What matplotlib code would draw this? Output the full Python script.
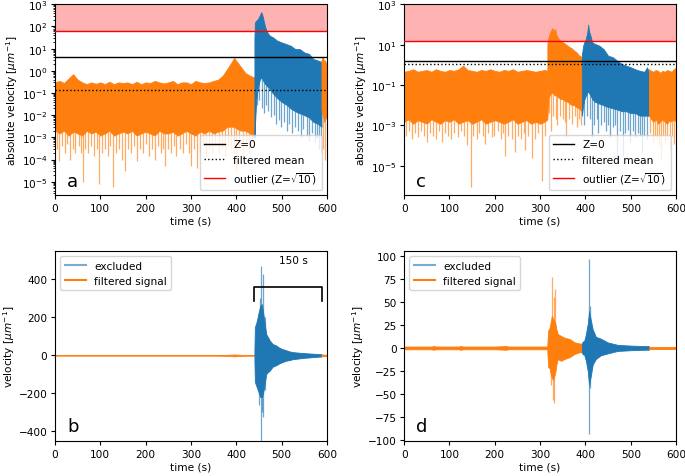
import numpy as np
import matplotlib.pyplot as plt
from matplotlib.lines import Line2D

# colors (matplotlib default cycle)
C_BLUE = '#1f77b4'
C_ORANGE = '#ff7f0e'

# ---------------- panel a : |velocity|, log scale ----------------
# upper envelope / lower body of the trace
a_t_pre = [0, 10, 20, 30, 40, 50, 60, 70, 80, 90, 100, 110, 120, 130, 140, 150, 160, 170, 180, 190,
           200, 210, 220, 230, 240, 250, 260, 270, 280, 290, 300, 310, 320, 330, 340, 350, 360, 370,
           380, 390, 395, 400, 410, 420, 430, 440]
a_hi_pre = [0.3, 0.35, 0.28, 0.45, 0.7, 0.4, 0.3, 0.25, 0.3, 0.26, 0.3, 0.25, 0.32, 0.25, 0.3, 0.28,
            0.3, 0.25, 0.32, 0.25, 0.3, 0.28, 0.35, 0.3, 0.27, 0.3, 0.35, 0.25, 0.3, 0.3, 0.25, 0.35,
            0.3, 0.28, 0.3, 0.35, 0.4, 0.6, 1.2, 2.5, 3.8, 2.8, 1.5, 0.8, 0.6, 0.5]
a_lo_pre = [2e-3, 1.5e-3, 2e-3, 1.2e-3, 1.8e-3, 1.5e-3, 1.2e-3, 2e-3, 1.5e-3, 1.8e-3, 1.2e-3, 1.5e-3,
            2e-3, 1.2e-3, 1.5e-3, 1.8e-3, 1.5e-3, 2e-3, 1.2e-3, 1.5e-3, 1.8e-3, 1.5e-3, 1.2e-3, 2e-3,
            1.5e-3, 1.5e-3, 1.8e-3, 1.2e-3, 1.5e-3, 2e-3, 1.5e-3, 1.2e-3, 1.8e-3, 1.5e-3, 2e-3, 1.5e-3,
            1.8e-3, 2e-3, 3e-3, 3e-3, 3e-3, 2.5e-3, 2e-3, 2e-3, 1.5e-3, 1e-3]
a_spk_t_pre = [4, 9, 15, 22, 27, 33, 39, 45, 52, 57, 61, 67, 73, 79, 85, 92, 98, 104, 110, 116, 122,
               129, 135, 142, 148, 154, 161, 168, 174, 180, 187, 194, 201, 208, 214, 220, 227, 233,
               238, 243, 250, 256, 262, 268, 275, 282, 289, 295, 300, 307, 313, 319, 326, 333, 340,
               347, 354, 361, 368, 375, 382, 389, 394, 400, 407, 414, 421, 428, 435]
a_spk_v_pre = [3e-4, 9e-5, 4e-4, 2e-4, 5e-4, 1e-4, 3e-4, 2e-4, 4e-4, 2e-4, 1e-5, 3e-4, 2e-4, 4e-4,
               1.5e-4, 3e-4, 8e-6, 2e-4, 3e-4, 1.5e-4, 4e-4, 6e-6, 2e-4, 3e-4, 1e-4, 3e-5, 3e-4, 2e-4,
               4e-4, 9e-5, 3e-4, 2e-4, 5e-4, 1.5e-4, 3e-4, 1e-4, 4e-4, 2e-4, 3e-4, 5e-5, 3e-4, 2e-4,
               4e-4, 1.5e-4, 3e-4, 2e-4, 5e-4, 2e-4, 5e-5, 3e-4, 4e-5, 2e-4, 4e-4, 1.5e-4, 3e-4, 2e-4,
               4e-4, 2e-4, 3e-4, 1.5e-4, 4e-4, 3e-4, 2e-4, 3e-5, 4e-4, 1e-4, 3e-4, 2e-4, 5e-4]

a_t_ex = [440, 441, 444, 448, 452, 455, 458, 461, 464, 468, 474, 480, 490, 500, 510, 520, 530, 540,
          550, 560, 570, 580, 588]
a_hi_ex = [30, 150, 180, 220, 320, 440, 300, 160, 90, 55, 38, 33, 23, 19, 16, 13.5, 9.5, 9.5, 6.7,
           5.8, 3.4, 2.9, 2.5]
a_lo_ex = [1e-3, 3e-3, 0.05, 0.2, 0.4, 0.5, 0.4, 0.3, 0.25, 0.2, 0.15, 0.1, 0.06, 0.04, 0.03, 0.02,
           0.015, 0.012, 0.01, 0.008, 0.005, 0.004, 0.003]
a_spk_t_ex = [446, 451, 457, 462, 466, 471, 477, 483, 488, 494, 499, 505, 511, 517, 523, 529, 536,
              542, 548, 555, 561, 567, 573, 578, 583, 587]
a_spk_v_ex = [0.03, 0.05, 0.02, 0.012, 0.03, 0.015, 0.008, 0.01, 0.004, 0.006, 0.003, 0.005, 0.002,
              0.004, 0.0015, 0.003, 0.002, 0.001, 0.0025, 0.0012, 0.0007, 0.0015, 0.0006, 0.0009,
              0.0003, 0.0002]

a_t_post = [588, 590, 592, 594, 596, 598, 600]
a_hi_post = [3, 4, 3.5, 2.5, 3, 2, 1.5]
a_lo_post = [0.02, 0.01, 0.008, 0.005, 0.006, 0.008, 0.01]
a_spk_t_post = [591, 596]
a_spk_v_post = [3e-4, 1e-4]

a_z0 = 4.1
a_mean = 0.14
a_outlier = 65

# ---------------- panel c : |velocity|, log scale ----------------
c_t_pre = [0, 10, 20, 30, 40, 50, 60, 70, 80, 90, 100, 110, 120, 130, 140, 150, 160, 170, 180, 190,
           200, 210, 220, 230, 240, 250, 260, 270, 280, 290, 300, 310, 316]
c_hi_pre = [0.45, 0.5, 0.6, 0.45, 0.5, 0.55, 0.45, 0.6, 0.5, 0.45, 0.55, 0.5, 0.6, 0.9, 0.55, 0.5,
            0.45, 0.55, 0.5, 0.6, 0.5, 0.45, 0.55, 0.5, 0.6, 0.45, 0.5, 0.55, 0.5, 0.45, 0.5, 0.55, 0.5]
c_lo_pre = [1.5e-3, 2e-3, 1.2e-3, 1.8e-3, 1.5e-3, 1.2e-3, 2e-3, 1.5e-3, 1.2e-3, 1.8e-3, 1.5e-3,
            2e-3, 1.2e-3, 1.5e-3, 1.8e-3, 1.2e-3, 1.5e-3, 2e-3, 1.2e-3, 1.5e-3, 1.8e-3, 1.5e-3,
            1.2e-3, 1.5e-3, 2e-3, 1.2e-3, 1.5e-3, 1.8e-3, 1.2e-3, 1.5e-3, 1.2e-3, 1.5e-3, 2e-3]
c_spk_t_pre = [4, 10, 17, 24, 30, 37, 44, 50, 56, 63, 70, 76, 83, 90, 97, 104, 111, 118, 125, 132,
               138, 147, 153, 160, 166, 173, 179, 186, 193, 199, 206, 213, 219, 223, 230, 237, 245,
               251, 258, 264, 267, 274, 282, 289, 296, 304, 310]
c_spk_v_pre = [3e-4, 5e-4, 2e-4, 4e-4, 2.5e-4, 5e-4, 3e-4, 1.5e-4, 4e-4, 3e-4, 2e-4, 5e-4, 1.5e-4,
               4e-4, 3e-4, 2e-4, 4e-4, 2.5e-4, 5e-4, 3e-4, 1e-4, 9e-7, 3e-4, 2e-4, 4e-4, 3e-4, 1.2e-4,
               4e-4, 2.5e-4, 3e-4, 5e-4, 2e-4, 4e-4, 3e-5, 3e-4, 2e-4, 5e-5, 3e-4, 2e-4, 4e-4, 6e-5,
               3e-4, 2.5e-5, 2e-4, 4e-4, 1.8e-6, 3e-4]

c_t_b1 = [316, 318, 321, 324, 327, 330, 333, 336, 340, 345, 350, 355, 360, 365, 370, 375, 380, 385, 392]
c_hi_b1 = [10, 20, 35, 50, 66, 45, 60, 30, 20, 15, 13, 11, 9, 7.5, 6.5, 5, 4.2, 3, 2.4]
c_lo_b1 = [0.003, 0.02, 0.03, 0.04, 0.04, 0.035, 0.03, 0.03, 0.025, 0.02, 0.02, 0.015, 0.015, 0.012,
           0.01, 0.01, 0.008, 0.007, 0.005]
c_spk_t_b1 = [319, 324, 329, 334, 338, 343, 350, 355, 358, 364, 370, 376, 381, 386, 390]
c_spk_v_b1 = [0.004, 5e-4, 0.003, 0.002, 0.001, 0.003, 0.002, 0.0015, 2.5e-4, 0.002, 0.0012, 0.003,
              8e-4, 0.002, 0.001]

c_t_ex = [392, 395, 398, 401, 404, 406, 408, 411, 415, 420, 430, 440, 450, 460, 470, 480, 490, 500,
          510, 520, 530, 536, 540]
c_hi_ex = [3, 9, 14, 20, 40, 97, 45, 28, 13, 11, 9, 6, 2.8, 2.4, 1.6, 1.1, 0.9, 0.75, 0.6, 0.5, 0.45,
           0.75, 0.4]
c_lo_ex = [0.003, 0.01, 0.02, 0.03, 0.04, 0.05, 0.04, 0.03, 0.02, 0.015, 0.012, 0.01, 0.008, 0.007,
           0.006, 0.005, 0.005, 0.004, 0.004, 0.003, 0.003, 0.003, 0.003]
c_spk_t_ex = [397, 403, 409, 414, 419, 425, 428, 435, 441, 445, 450, 455, 461, 465, 470, 476, 482,
              488, 494, 498, 504, 510, 515, 520, 525, 530, 535]
c_spk_v_ex = [0.001, 0.003, 0.002, 2.5e-4, 0.001, 0.002, 4e-4, 0.001, 0.0015, 5e-4, 0.001, 2.5e-4,
              8e-4, 0.001, 1.5e-5, 5e-4, 3e-5, 4e-4, 6e-4, 1.5e-4, 5e-4, 2.5e-4, 4e-4, 3e-4, 5e-5,
              3e-4, 2e-4]

c_t_post = [540, 545, 550, 555, 560, 565, 570, 575, 580, 585, 590, 595, 600]
c_hi_post = [0.6, 0.5, 0.45, 0.55, 0.5, 0.4, 0.5, 0.45, 0.55, 0.5, 0.45, 0.6, 0.7]
c_lo_post = [0.003, 0.002, 0.0015, 0.002, 0.0012, 0.0015, 0.002, 0.0015, 0.0012, 0.0018, 0.0015,
             0.002, 0.0015]
c_spk_t_post = [543, 548, 553, 558, 562, 566, 571, 576, 581, 586, 590, 595, 599]
c_spk_v_post = [4e-4, 1.5e-4, 3e-4, 2e-4, 1e-4, 2e-5, 3e-4, 1.5e-4, 2e-4, 6e-5, 3e-4, 1.2e-4, 3e-4]

c_z0 = 1.48
c_mean = 1.06
c_outlier = 15.8

# ---------------- panel b : velocity, linear ----------------
b_t_pre = [0, 50, 100, 150, 200, 250, 300, 350, 370, 380, 390, 395, 400, 410, 420, 440]
b_hi_pre = [1.5, 1.5, 1.5, 1.5, 1.5, 1.5, 1.5, 1.5, 2, 3, 4, 5, 4, 3, 2, 1.5]

b_t_ex = [440, 441, 444, 447, 450, 453, 456, 459, 462, 466, 470, 474, 480, 488, 495, 502, 510, 517,
          525, 539, 550, 561, 575, 588]
b_hi_ex = [30, 150, 170, 200, 235, 260, 270, 230, 180, 112, 95, 78, 60, 52, 40, 33, 27, 21, 17, 14,
           12, 10, 8, 6]
b_lo_ex = [-30, -140, -160, -180, -200, -220, -220, -200, -160, -98, -88, -80, -60, -52, -42, -35,
           -28, -25, -20, -16, -13, -11, -8, -6]
b_spk_t = [452, 454, 458, 463, 451, 454, 457, 460, 464]
b_spk_v = [300, 472, 428, 200, -260, -449, -300, -325, -180]

b_t_post = [588, 594, 600]
b_hi_post = [5, 4, 3]

bracket_t = [440, 589]
bracket_y = [284, 358]

# ---------------- panel d : velocity, linear ----------------
d_t_pre = [0, 30, 60, 65, 70, 100, 120, 125, 130, 160, 200, 225, 230, 260, 290, 316]
d_hi_pre = [1.5, 1.5, 1.5, 2, 1.5, 1.5, 1.5, 2, 1.5, 1.5, 1.5, 2, 1.5, 1.5, 1.5, 1.5]

d_t_b1 = [316, 318, 321, 324, 326, 328, 330, 333, 336, 339, 346, 354, 365, 376, 385, 392]
d_hi_b1 = [5, 19, 22, 30, 35, 32, 30, 28, 20, 15, 13, 11, 9.7, 6, 5, 4.5]
d_lo_b1 = [-5, -21, -22, -30, -32, -35, -32, -28, -18, -12, -14, -12, -10, -6.5, -5, -4.5]
d_spk_t_b1 = [327, 330, 333, 325, 328, 331]
d_spk_v_b1 = [77, 55, 64, -40, -57, -60]

d_t_ex = [392, 394, 397, 401, 405, 408, 412, 416, 423, 434, 449, 471, 500, 530, 540]
d_hi_ex = [4.5, 7, 7, 15, 26, 40, 30, 20, 12, 10, 6, 3.3, 2.5, 2, 2]
d_lo_ex = [-4.5, -7, -7, -14, -25, -40, -30, -18, -12, -8, -6, -3.3, -2.5, -2, -2]
d_spk_t_ex = [407, 407.5, 410, 411]
d_spk_v_ex = [96, -93, 45, -44]

d_t_post = [540, 570, 600]
d_hi_post = [1.5, 1.5, 1.5]

FS = 7.6  # tick / label font size


# draws one segment of the trace as envelope + spikes
def draw_seg(ax, t, hi, lo, color, spk_t=None, spk_v=None, log=False):
    t = np.asarray(t, float)
    hi = np.asarray(hi, float)
    lo = np.asarray(lo, float)
    ax.fill_between(t, lo, hi, color=color, lw=0.6, zorder=2)
    if spk_t is not None:
        spk_t = np.asarray(spk_t, float)
        spk_v = np.asarray(spk_v, float)
        if log:
            base = np.interp(spk_t, t, lo)
        else:
            base = np.zeros_like(spk_t)
        ax.vlines(spk_t, base, spk_v, color=color, lw=0.9, alpha=0.65, zorder=2)


def style_axis(ax, letter):
    ax.set_xlim(0, 600)
    ax.set_xticks(np.arange(0, 601, 100))
    ax.tick_params(labelsize=FS, length=3, width=0.8, pad=2.5)
    ax.tick_params(which='minor', length=1.8, width=0.6)
    ax.set_xlabel('time (s)', fontsize=FS, labelpad=2)
    ax.text(0.045, 0.05, letter, transform=ax.transAxes, fontsize=13, va='baseline', zorder=6)


def log_lines(ax, z0, mean, outlier, ytop):
    ax.axhspan(outlier, ytop, color='red', alpha=0.3, lw=0, zorder=0)
    ax.axhline(outlier, color='red', lw=1, zorder=3)
    ax.axhline(z0, color='black', lw=1, zorder=3)
    ax.axhline(mean, color='black', lw=1, ls=':', zorder=3)
    handles = [Line2D([], [], color='black', lw=1),
               Line2D([], [], color='black', lw=1, ls=':'),
               Line2D([], [], color='red', lw=1)]
    ax.legend(handles, ['Z=0', 'filtered mean', r'outlier (Z=$\sqrt{10}$)'],
              loc='lower right', fontsize=FS)


def lin_legend(ax):
    handles = [Line2D([], [], color=C_BLUE, lw=1.5, alpha=0.6),
               Line2D([], [], color=C_ORANGE, lw=1.5)]
    ax.legend(handles, ['excluded', 'filtered signal'], loc='upper left', fontsize=FS)


fig = plt.figure(figsize=(6.85, 4.77), dpi=100)

# --- a ---
ax_a = fig.add_axes([0.0803, 0.589, 0.397, 0.4])
ax_a.set_yscale('log')
draw_seg(ax_a, a_t_pre, a_hi_pre, a_lo_pre, C_ORANGE, a_spk_t_pre, a_spk_v_pre, log=True)
draw_seg(ax_a, a_t_ex, a_hi_ex, a_lo_ex, C_BLUE, a_spk_t_ex, a_spk_v_ex, log=True)
draw_seg(ax_a, a_t_post, a_hi_post, a_lo_post, C_ORANGE, a_spk_t_post, a_spk_v_post, log=True)
log_lines(ax_a, a_z0, a_mean, a_outlier, 1e3)
ax_a.set_ylim(2.5e-6, 1e3)
ax_a.set_yticks([10.0 ** k for k in range(-5, 4)])
ax_a.set_ylabel(r'absolute velocity [$\mu m^{-1}$]', fontsize=FS, labelpad=1)
style_axis(ax_a, 'a')

# --- c ---
ax_c = fig.add_axes([0.590, 0.589, 0.397, 0.4])
ax_c.set_yscale('log')
draw_seg(ax_c, c_t_pre, c_hi_pre, c_lo_pre, C_ORANGE, c_spk_t_pre, c_spk_v_pre, log=True)
draw_seg(ax_c, c_t_b1, c_hi_b1, c_lo_b1, C_ORANGE, c_spk_t_b1, c_spk_v_b1, log=True)
draw_seg(ax_c, c_t_ex, c_hi_ex, c_lo_ex, C_BLUE, c_spk_t_ex, c_spk_v_ex, log=True)
draw_seg(ax_c, c_t_post, c_hi_post, c_lo_post, C_ORANGE, c_spk_t_post, c_spk_v_post, log=True)
log_lines(ax_c, c_z0, c_mean, c_outlier, 1e3)
ax_c.set_ylim(3.5e-7, 1e3)
ax_c.set_yticks([1e-5, 1e-3, 1e-1, 1e1, 1e3])
ax_c.set_yticks([], minor=True)
ax_c.set_ylabel(r'absolute velocity [$\mu m^{-1}$]', fontsize=FS, labelpad=1)
style_axis(ax_c, 'c')

# --- b ---
ax_b = fig.add_axes([0.0803, 0.0734, 0.397, 0.398])
b_hi = np.array(b_hi_pre)
draw_seg(ax_b, b_t_pre, b_hi, -b_hi, C_ORANGE)
draw_seg(ax_b, b_t_ex, b_hi_ex, b_lo_ex, C_BLUE, b_spk_t, b_spk_v)
b_hp = np.array(b_hi_post)
draw_seg(ax_b, b_t_post, b_hp, -b_hp, C_ORANGE)
# 150 s bracket
ax_b.plot([bracket_t[0], bracket_t[0], bracket_t[1], bracket_t[1]],
          [bracket_y[0], bracket_y[1], bracket_y[1], bracket_y[0]], color='black', lw=1.2, zorder=4)
ax_b.text(527, 501, '150 s', fontsize=FS, ha='center', va='center')
ax_b.set_ylim(-451, 549)
ax_b.set_yticks([-400, -200, 0, 200, 400])
ax_b.set_ylabel(r'velocity [$\mu m^{-1}$]', fontsize=FS, labelpad=1)
lin_legend(ax_b)
style_axis(ax_b, 'b')

# --- d ---
ax_d = fig.add_axes([0.590, 0.0734, 0.397, 0.398])
d_hi = np.array(d_hi_pre)
draw_seg(ax_d, d_t_pre, d_hi, -d_hi, C_ORANGE)
draw_seg(ax_d, d_t_b1, d_hi_b1, d_lo_b1, C_ORANGE, d_spk_t_b1, d_spk_v_b1)
draw_seg(ax_d, d_t_ex, d_hi_ex, d_lo_ex, C_BLUE, d_spk_t_ex, d_spk_v_ex)
d_hp = np.array(d_hi_post)
draw_seg(ax_d, d_t_post, d_hp, -d_hp, C_ORANGE)
ax_d.set_ylim(-101, 105)
ax_d.set_yticks(np.arange(-100, 101, 25))
ax_d.set_ylabel(r'velocity [$\mu m^{-1}$]', fontsize=FS, labelpad=1)
lin_legend(ax_d)
style_axis(ax_d, 'd')

fig.savefig('out.png', dpi=100)
